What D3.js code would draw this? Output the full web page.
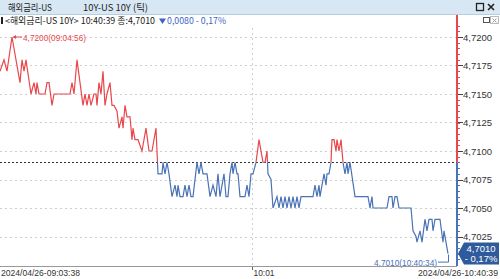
<!DOCTYPE html>
<html>
<head>
<meta charset="utf-8">
<script src="https://cdn.jsdelivr.net/npm/d3@7"></script>
<style>
  html, body { margin: 0; padding: 0; background: #fff; overflow: hidden; }
  svg { display: block; }
</style>
</head>
<body>
<svg id="chart"></svg>
<script>
// tick chart : x is the tick number, y is the yield
var tickNo = [0,4,7,12,20,22,24,26,31,34,36,37,39,45,47,49,52,54,70,72,74,77,83,85,87,89,91,94,96,97,99,101,103,105,107,110,112,114,
  117,119,122,123,125,127,130,132,133,135,138,142,146,149,152,156,158,162,163,165,167,169,172,175,177,178,180,183,185,187,189,191,193,
  197,199,201,203,207,210,213,216,218,220,224,226,228,230,232,233,235,237,238,240,245,247,249,251,253,256,259,263,265,267,268,271,273,
  277,279,281,283,285,287,289,291,293,295,297,299,301,313,315,317,319,320,322,324,326,327,329,331,332,334,336,337,339,341,343,345,347,
  348,350,355,368,370,372,373,387,389,392,393,395,397,399,411,413,416,417,420,422,425,427,429,432,433,435,440,443,444,448];
var yields = [4.7170,4.7180,4.7170,4.7200,4.7160,4.7180,4.7170,4.7180,4.7150,4.7160,4.7150,4.7160,4.7150,4.7150,4.7160,4.7160,4.7140,4.7150,4.7150,4.7160,4.7150,4.7180,4.7140,4.7150,4.7140,4.7150,4.7140,4.7150,4.7150,4.7140,4.7160,4.7150,4.7170,4.7140,4.7150,4.7160,4.7140,4.7140,
  4.7135,4.7120,4.7130,4.7120,4.7140,4.7130,4.7130,4.7110,4.7120,4.7110,4.7110,4.7100,4.7120,4.7100,4.7100,4.7120,4.7080,4.7080,4.7090,4.7080,4.7090,4.7080,4.7060,4.7070,4.7060,4.7070,4.7060,4.7060,4.7070,4.7060,4.7070,4.7060,4.7060,
  4.7090,4.7080,4.7090,4.7080,4.7080,4.7060,4.7070,4.7060,4.7080,4.7060,4.7080,4.7060,4.7060,4.7080,4.7090,4.7080,4.7090,4.7080,4.7080,4.7060,4.7060,4.7070,4.7060,4.7080,4.7080,4.7090,4.7110,4.7090,4.7090,4.7100,4.7080,4.7075,4.7050,
  4.7060,4.7050,4.7060,4.7050,4.7060,4.7050,4.7060,4.7050,4.7060,4.7050,4.7060,4.7050,4.7060,4.7060,4.7070,4.7060,4.7070,4.7060,4.7070,4.7080,4.7070,4.7080,4.7080,4.7090,4.7110,4.7110,4.7100,4.7110,4.7100,4.7110,4.7090,4.7080,4.7090,
  4.7080,4.7090,4.7060,4.7060,4.7050,4.7060,4.7050,4.7050,4.7060,4.7060,4.7050,4.7060,4.7060,4.7050,4.7050,4.7030,4.7025,4.7020,4.7030,4.7020,4.7040,4.7030,4.7040,4.7040,4.7030,4.7040,4.7040,4.7020,4.7030,4.7010];

var prevClose = 4.7090;              // 전일종가 (dashed line)
var yTicks = [4.7025,4.7050,4.7075,4.7100,4.7125,4.7150,4.7175,4.7200];
var xLabels = ["2024/04/26-09:03:38","10:01","2024/04/26-10:40:39"];
var xLabelTick = [0,252,457];        // tick no. of each x label
var maxText = "4,7200(09:04:56)";
var minText = "4,7010(10:40:34)";

var W = 500, H = 279;
var axisX = 457, plotBottom = 266;
var red = "#e8474c", blue = "#4a72b6";
var numFont = "'Liberation Sans', Arial, sans-serif";
var krFont = "'Noto Sans CJK KR', 'Liberation Sans', sans-serif";

function comma(v){ return d3.format(".4f")(v).replace(".", ","); }

var svg = d3.select("#chart").attr("width", W).attr("height", H);

var x = d3.scaleLinear().domain([0, 457]).range([0, axisX]);
var y = d3.scaleLinear().domain([4.7000, 4.7200]).range([265, 37]);

// ---- header bar
var hd = svg.append("g");
hd.append("rect").attr("x",0).attr("y",0).attr("width",W).attr("height",14).attr("fill","#d8e7f4");
hd.append("line").attr("x1",0).attr("x2",W).attr("y1",14.5).attr("y2",14.5).attr("stroke","#b9cde0");
hd.append("text").attr("x",8).attr("y",10.5).attr("font-family",krFont).attr("font-size",9.5)
  .attr("fill","#222").attr("textLength",44).attr("lengthAdjust","spacingAndGlyphs").text("해외금리-US");
hd.append("text").attr("x",83).attr("y",10.5).attr("font-family",krFont).attr("font-size",9.5)
  .attr("fill","#222").attr("textLength",65).attr("lengthAdjust","spacingAndGlyphs").text("10Y-US 10Y (틱)");
// window buttons
hd.append("rect").attr("x",476.5).attr("y",3.5).attr("width",7).attr("height",7).attr("fill","none").attr("stroke","#222").attr("stroke-width",1.3);
hd.append("path").attr("d","M488,4L494,10M494,4L488,10").attr("stroke","#222").attr("stroke-width",1.6);
svg.append("rect").attr("x",483.5).attr("y",17.5).attr("width",6).attr("height",5).attr("fill","none").attr("stroke","#555");
svg.append("rect").attr("x",490.5).attr("y",16.5).attr("width",8).attr("height",7).attr("fill","none").attr("stroke","#bbb");
svg.append("path").attr("d","M492.5,18.5L496.5,22.5M496.5,18.5L492.5,22.5").attr("stroke","#999");

// ---- info line
svg.append("rect").attr("x",1).attr("y",17).attr("width",2).attr("height",7).attr("fill","#222");
svg.append("text").attr("x",5).attr("y",24).attr("font-family",krFont).attr("font-size",9)
  .attr("fill","#222").attr("textLength",150).attr("lengthAdjust","spacingAndGlyphs")
  .text("<해외금리-US 10Y> 10:40:39 종:" + comma(yields[yields.length-1]));
svg.append("path").attr("d","M159,18.5H166L162.5,24Z").attr("fill","#3d63c6");
svg.append("text").attr("x",167).attr("y",24).attr("font-family",krFont).attr("font-size",9)
  .attr("fill","#3d63c6").attr("textLength",59).attr("lengthAdjust","spacingAndGlyphs")
  .text(comma(prevClose - yields[yields.length-1]) + " - 0,17%");

// ---- grid
var grid = svg.append("g");
grid.selectAll("line.h").data(yTicks).enter().append("line")
  .attr("x1",0).attr("x2",axisX).attr("y1",function(d){return Math.round(y(d))+0.5;}).attr("y2",function(d){return Math.round(y(d))+0.5;})
  .attr("stroke","#cfcfcf").attr("stroke-dasharray","2,3");
grid.append("line").attr("x1",x(xLabelTick[1])+0.5).attr("x2",x(xLabelTick[1])+0.5).attr("y1",28).attr("y2",plotBottom)
  .attr("stroke","#cfcfcf").attr("stroke-dasharray","2,3");

// prev close dashed line
var yPrev = Math.round(y(prevClose)) + 0.5;
svg.append("line").attr("x1",0).attr("x2",axisX).attr("y1",yPrev).attr("y2",yPrev)
  .attr("stroke","#333").attr("stroke-dasharray","2,2");

// ---- price line, red above prev close, blue below
var pts = tickNo.map(function(t,i){ return [t, yields[i]]; });
var line = d3.line().x(function(d){return x(d[0]);}).y(function(d){return y(d[1]);});
var defs = svg.append("defs");
defs.append("clipPath").attr("id","up").append("rect").attr("x",0).attr("y",0).attr("width",axisX).attr("height",y(prevClose));
defs.append("clipPath").attr("id","dn").append("rect").attr("x",0).attr("y",y(prevClose)).attr("width",axisX).attr("height",H);
svg.append("path").datum(pts).attr("d",line).attr("fill","none").attr("stroke",red).attr("stroke-width",1.2).attr("clip-path","url(#up)");
svg.append("path").datum(pts).attr("d",line).attr("fill","none").attr("stroke",blue).attr("stroke-width",1.2).attr("clip-path","url(#dn)");

// max / min labels
var iMax = d3.maxIndex(yields), iMin = yields.length - 1;
var mx = x(tickNo[iMax]), my = y(yields[iMax]);
svg.append("line").attr("x1",mx+1).attr("x2",mx+10).attr("y1",my).attr("y2",my).attr("stroke",red);
svg.append("path").attr("d","M"+(mx+1)+","+my+"l3,-2v4z").attr("fill",red);
svg.append("text").attr("x",mx+11).attr("y",my+3.5).attr("font-family",numFont).attr("font-size",9.5)
  .attr("fill",red).attr("textLength",63).attr("lengthAdjust","spacingAndGlyphs").text(maxText);
var nx = x(tickNo[iMin]), ny = y(yields[iMin]);
svg.append("path").attr("d","M"+(nx-10)+","+(ny+8.5)+"H"+(nx+0.5)+"V"+(ny+1)).attr("fill","none").attr("stroke",blue);
svg.append("text").attr("x",nx-11).attr("y",ny+12).attr("text-anchor","end").attr("font-family",numFont).attr("font-size",9.5)
  .attr("fill",blue).attr("textLength",63).attr("lengthAdjust","spacingAndGlyphs").text(minText);

// ---- right axis
var ax = svg.append("g").attr("transform","translate("+axisX+",0)");
ax.append("line").attr("x1",0).attr("x2",0).attr("y1",15).attr("y2",yPrev).attr("stroke",red).attr("stroke-width",2);
ax.append("line").attr("x1",0).attr("x2",0).attr("y1",yPrev).attr("y2",plotBottom).attr("stroke",blue).attr("stroke-width",2);
var minor = d3.range(4.7005, 4.7215, 0.0005);
ax.selectAll("line.mn").data(minor).enter().append("line")
  .attr("x1",1).attr("x2",3).attr("y1",function(d){return Math.round(y(d))+0.5;}).attr("y2",function(d){return Math.round(y(d))+0.5;})
  .attr("stroke",function(d){return d > prevClose ? red : blue;});
ax.selectAll("line.mj").data(yTicks).enter().append("line")
  .attr("x1",1).attr("x2",6).attr("y1",function(d){return Math.round(y(d))+0.5;}).attr("y2",function(d){return Math.round(y(d))+0.5;})
  .attr("stroke","#444");
ax.selectAll("text").data(yTicks).enter().append("text")
  .attr("x",6).attr("y",function(d){return y(d)+3.5;})
  .attr("font-family",numFont).attr("font-size",9.5).attr("fill","#333").text(comma);

// current value badge
var by = y(yields[iMin]);
svg.append("path").attr("d","M"+(axisX+1)+","+by+"L"+(axisX+7)+","+(by-11)+"H499V"+(by+11)+"H"+(axisX+7)+"Z")
  .attr("fill","#2f5b9c");
svg.append("text").attr("x",481).attr("y",by-1.5).attr("text-anchor","middle").attr("font-family",numFont).attr("font-size",9.5)
  .attr("fill","#fff").text(comma(yields[iMin]));
svg.append("text").attr("x",481).attr("y",by+8.5).attr("text-anchor","middle").attr("font-family",numFont).attr("font-size",9.5)
  .attr("fill","#fff").text("- 0,17%");

// ---- bottom axis
svg.append("line").attr("x1",0).attr("x2",axisX).attr("y1",plotBottom+0.5).attr("y2",plotBottom+0.5).attr("stroke","#999");
svg.append("line").attr("x1",x(xLabelTick[1])+0.5).attr("x2",x(xLabelTick[1])+0.5).attr("y1",plotBottom+1).attr("y2",plotBottom+4).attr("stroke","#666");
svg.append("text").attr("x",1).attr("y",276).attr("font-family",numFont).attr("font-size",9).attr("fill","#333")
  .attr("textLength",79).attr("lengthAdjust","spacingAndGlyphs").text(xLabels[0]);
svg.append("text").attr("x",x(xLabelTick[1])+1.5).attr("y",276).attr("font-family",numFont).attr("font-size",9).attr("fill","#333")
  .attr("textLength",21).attr("lengthAdjust","spacingAndGlyphs").text(xLabels[1]);
svg.append("text").attr("x",498).attr("y",276).attr("text-anchor","end").attr("font-family",numFont).attr("font-size",9).attr("fill","#333")
  .attr("textLength",80).attr("lengthAdjust","spacingAndGlyphs").text(xLabels[2]);
</script>
</body>
</html>
